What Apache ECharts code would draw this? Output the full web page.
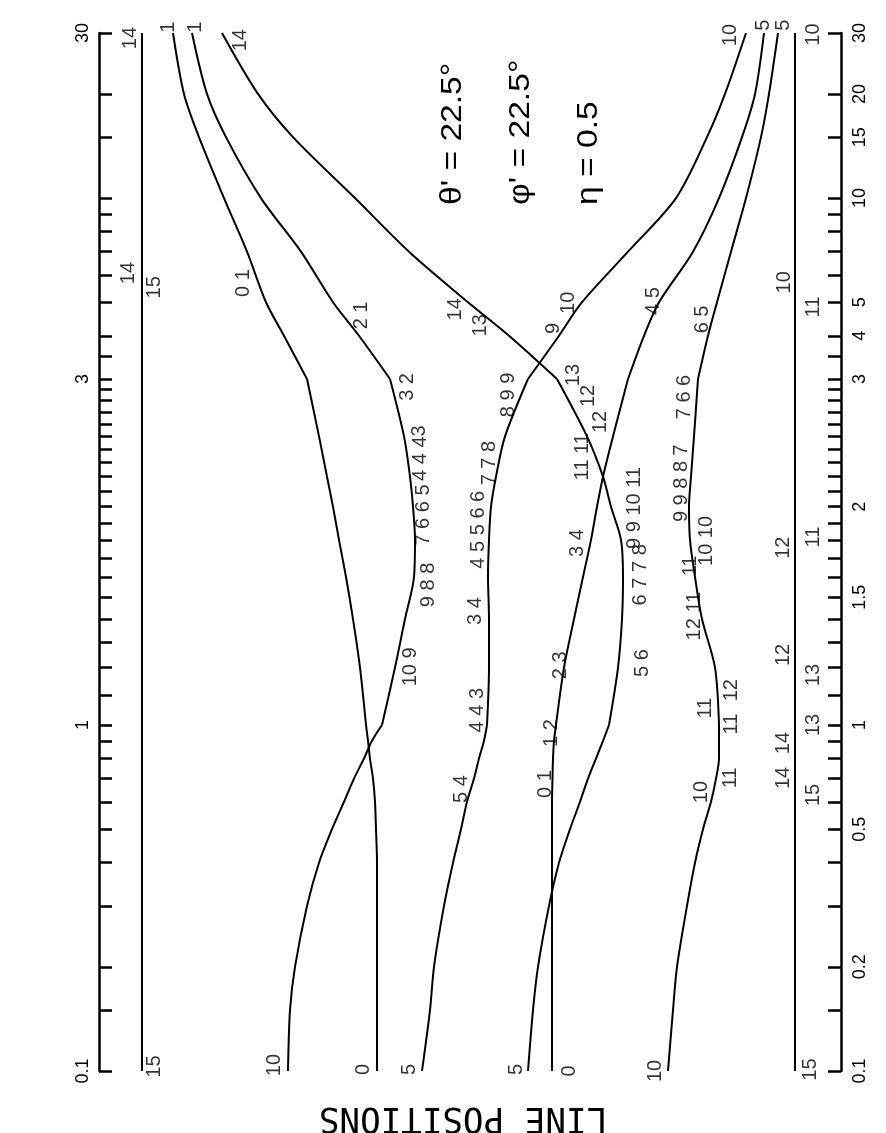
<!DOCTYPE html>
<html>
<head>
<meta charset="utf-8">
<script src="https://cdn.jsdelivr.net/npm/echarts@6/dist/echarts.min.js"></script>
<style>
  html, body { margin: 0; padding: 0; background: #ffffff; }
  #chart { width: 886px; height: 1133px; }
</style>
</head>
<body>
<div id="chart"></div>
<script>
const rhoGrid = [0.1, 0.15, 0.2, 0.3, 0.4, 0.5, 0.6, 0.7, 0.8, 0.9, 1, 1.2, 1.4, 1.6, 1.8, 2, 2.2, 2.5, 3, 4, 5, 7, 10, 15, 20, 30]

// line positions (arbitrary units) of each curve along rhoGrid
const curve0to1 = [27.8, 27.8, 27.8, 27.8, 27.8, 27.7, 27.6, 27.4, 27.1, 26.9, 26.7, 26.1, 25.4, 24.7, 24.0, 23.4, 22.8, 22.0, 20.8, 18.5, 16.7, 14.8, 12.5, 10.0, 8.5, 7.4]
const curve10to1 = [18.9, 19.1, 19.6, 20.8, 22.0, 23.3, 24.5, 25.5, 26.5, 27.3, 28.3, 29.6, 30.6, 31.5, 31.6, 31.4, 31.1, 30.5, 29.1, 26.0, 23.4, 20.2, 16.2, 12.7, 10.8, 9.3]
const curve5to10 = [32.3, 33.1, 33.5, 34.5, 35.4, 36.2, 36.8, 37.5, 38.0, 38.5, 38.8, 39.0, 39.0, 38.9, 39.0, 39.2, 39.7, 40.6, 42.9, 46.0, 48.3, 52.9, 57.7, 60.8, 62.6, 64.7]
const curve5to14 = [42.9, 43.4, 43.9, 45.0, 46.0, 47.1, 48.1, 48.9, 49.7, 50.4, 51.0, 51.9, 52.3, 52.4, 52.2, 51.2, 50.4, 48.8, 45.8, 41.0, 36.9, 31.0, 25.6, 19.4, 15.9, 12.3]
const curve0to5 = [45.3, 45.3, 45.3, 45.3, 45.3, 45.3, 45.3, 45.35, 45.4, 45.5, 45.7, 46.5, 47.5, 48.4, 49.2, 49.8, 50.4, 51.4, 52.9, 54.5, 56.0, 59.4, 62.0, 64.3, 65.6, 66.5]
const curve10to5 = [56.9, 57.4, 57.8, 58.8, 59.6, 60.4, 61.2, 61.7, 62.0, 62.0, 62.0, 61.6, 60.3, 59.6, 59.1, 59.0, 59.2, 59.5, 59.9, 60.9, 61.8, 63.2, 64.7, 66.2, 67.0, 67.9]

// lines that do not move with rho
const fixedLines = [4.3, 69.6]

// rho axis ticks and labels
const tickRho = [0.1, 0.15, 0.2, 0.3, 0.4, 0.5, 0.6, 0.7, 0.8, 0.9, 1, 1.1, 1.2, 1.3, 1.4, 1.5, 1.6, 1.7, 1.8, 1.9, 2, 2.1, 2.2, 2.3, 2.4, 2.5, 2.6, 2.7, 2.8, 2.9, 3, 3.5, 4, 5, 6, 7, 8, 9, 10, 15, 20, 30]
const rightLabelRho = [0.1, 0.2, 0.5, 1, 1.5, 2, 3, 4, 5, 10, 15, 20, 30]
const leftLabelRho = [0.1, 1, 3, 30]

// quantum number labels: [line position, rho, text]
const curveLabels = [
  [17.5, 0.104, '10'], [26.4, 0.101, '0'], [31.0, 0.101, '5'], [41.7, 0.101, '5'],
  [47.0, 0.1, '0'], [55.6, 0.1, '10'], [5.5, 0.103, '15'], [71.1, 0.101, '15'],
  [6.9, 31.2, '1'], [9.6, 31.2, '1'], [14.1, 28.6, '14'], [63.1, 29.6, '10'],
  [66.4, 31.6, '5'], [68.4, 31.6, '5'], [3.1, 29.0, '14'], [71.4, 29.7, '10'],
  [2.9, 6.07, '14'], [5.5, 5.52, '15'], [68.5, 5.71, '10'], [71.4, 4.84, '11'],
  [68.4, 1.756, '12'], [71.4, 1.816, '11'], [68.4, 1.249, '12'], [71.4, 1.172, '13'],
  [68.4, 0.887, '14'], [71.4, 1.0, '13'], [68.4, 0.703, '14'], [71.4, 0.628, '15'],
  [14.4, 5.68, '0 1'],
  [31.1, 1.203, '10 9'], [32.9, 1.56, '9 8 8'], [32.4, 1.948, '7 6 6 5'], [32.1, 2.329, '4 4 4'],
  [32.0, 2.544, '3'], [30.8, 2.925, '3 2'], [26.2, 4.58, '2 1'],
  [36.2, 0.653, '5 4'], [37.8, 1.048, '4 4 3'], [37.6, 1.436, '3 4'], [37.9, 1.859, '4 5 5 6 6'],
  [39.0, 2.297, '7 7 8'], [40.9, 2.852, '8 9 9'], [45.4, 4.2, '9'], [46.9, 4.98, '10'],
  [35.6, 4.77, '14'], [38.1, 4.29, '13'], [47.4, 3.08, '13'], [48.9, 2.843, '12'],
  [48.3, 2.343, '11 11'], [50.1, 2.618, '12'], [53.5, 1.992, '9 9 10 11'], [54.1, 1.611, '6 7 7 8'],
  [54.3, 1.217, '5 6'],
  [44.6, 0.675, '0 1'], [45.2, 0.948, '1 2'], [46.1, 1.209, '2 3'], [47.8, 1.782, '3 4'], [55.4, 5.04, '4 5'],
  [60.3, 4.46, '6 5'], [58.5, 2.833, '7 6 6'], [58.2, 2.155, '9 9 8 8 7'], [60.7, 1.794, '10 10'],
  [59.1, 1.657, '11'], [59.5, 1.413, '12 11'], [63.2, 1.117, '12'], [60.6, 1.055, '11'],
  [63.2, 1.003, '11'], [63.1, 0.703, '11'], [60.2, 0.64, '10']
]

const INK = '#000000'

// the rho axis is split in three equal log pieces: 0.1-1, 1-3, 3-30
const tOf = (rho) => {
  let t
  if (rho <= 1) t = 1 + Math.log10(rho)
  else if (rho <= 3) t = 1 + Math.log(rho) / Math.log(3)
  else t = 2 + Math.log10(rho / 3)
  return Math.round(t * 1e6) / 1e6
}
const rhoOf = (t) => {
  if (t <= 1) return Math.pow(10, t - 1)
  if (t <= 2) return Math.pow(3, t - 1)
  return 3 * Math.pow(10, t - 2)
}
const fmtRho = (t) => String(+rhoOf(t).toFixed(2))

const rhoAxis = (position, labels, margin) => ({
  type: 'value',
  min: 0,
  max: 3,
  position: position,
  axisLine: { show: true, onZero: false, lineStyle: { color: INK, width: 2.5 } },
  axisTick: {
    show: true,
    inside: true,
    length: 13,
    customValues: tickRho.map(tOf),
    lineStyle: { color: INK, width: 2.5 }
  },
  axisLabel: {
    show: true,
    customValues: labels.map(tOf),
    rotate: 90,
    margin: margin,
    formatter: fmtRho,
    color: INK,
    fontSize: 18,
    fontFamily: 'Liberation Sans'
  },
  splitLine: { show: false }
})

const curves = [curve0to1, curve10to1, curve5to10, curve5to14, curve0to5, curve10to5]

// each curve is smoothed piece by piece, so the bends at rho = 1 and 3 stay sharp
const pieces = [[0, 10], [10, 18], [18, 25]]
const lineSeries = []
curves.forEach((c) => {
  pieces.forEach(([a, b]) => {
    const pts = []
    for (let i = a; i <= b; i++) pts.push([c[i], tOf(rhoGrid[i])])
    lineSeries.push({
      type: 'line',
      data: pts,
      smooth: 0.3,
      showSymbol: false,
      symbol: 'none',
      silent: true,
      clip: false,
      lineStyle: { color: INK, width: 2 }
    })
  })
})

const fixedSeries = fixedLines.map((x) => ({
  type: 'line',
  data: [[x, 0], [x, 3]],
  showSymbol: false,
  symbol: 'none',
  silent: true,
  lineStyle: { color: INK, width: 2 }
}))

const labelSeries = {
  type: 'scatter',
  symbolSize: 1,
  clip: false,
  silent: true,
  itemStyle: { color: 'rgba(0,0,0,0)' },
  data: curveLabels.map((l) => ({ value: [l[0], tOf(l[1])], name: l[2] })),
  label: {
    show: true,
    position: 'inside',
    rotate: 90,
    formatter: '{b}',
    color: INK,
    fontSize: 20,
    fontFamily: 'Liberation Sans'
  }
}

// rotated parameter text, reading upwards like the rest of the figure
const upText = (x, y, text) => ({
  type: 'text',
  x: x,
  y: y,
  rotation: Math.PI / 2,
  scaleX: 1.12,
  style: {
    text: text,
    fill: INK,
    fontSize: 30,
    fontFamily: 'Liberation Sans',
    textAlign: 'left',
    align: 'left',
    textVerticalAlign: 'middle',
    verticalAlign: 'middle'
  }
})

const chart = echarts.init(document.getElementById('chart'), null, { renderer: 'canvas' })

chart.setOption({
  animation: false,
  backgroundColor: '#ffffff',
  grid: { left: 99, right: 45, top: 33, bottom: 62 },
  xAxis: { type: 'value', min: 0, max: 74.2, show: false },
  yAxis: [rhoAxis('left', leftLabelRho, 7), rhoAxis('right', rightLabelRho, 10)],
  series: [...lineSeries, ...fixedSeries, labelSeries],
  graphic: [
    upText(453, 205, "θ' = 22.5°"),
    upText(521, 205, "φ' = 22.5°"),
    upText(589, 205, 'η = 0.5'),
    {
      type: 'text',
      x: 463,
      y: 1117,
      rotation: Math.PI,
      scaleX: 0.95,
      style: {
        text: 'LINE POSITIONS',
        fill: INK,
        fontSize: 36,
        fontFamily: 'DejaVu Sans Mono',
        textAlign: 'center',
        align: 'center',
        textVerticalAlign: 'middle',
        verticalAlign: 'middle'
      }
    }
  ]
})

window.addEventListener('resize', () => chart.resize())
</script>
</body>
</html>
